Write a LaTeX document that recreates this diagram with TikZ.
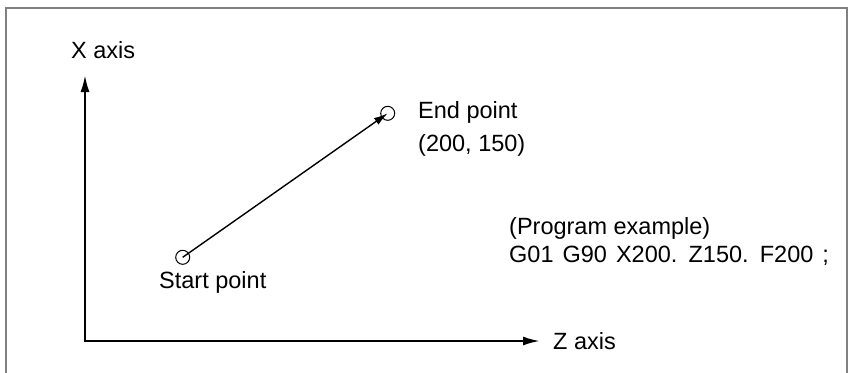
\documentclass[tikz,border=0pt]{standalone}
\usepackage{fontspec}
\setmainfont{Liberation Sans}
\usetikzlibrary{arrows.meta}
\begin{document}
\begin{tikzpicture}[x=1pt,y=-1pt,
  lbl/.style={anchor=base west,inner sep=0pt,font=\fontsize{23.5}{28}\selectfont},
  pt/.style={circle,draw,line width=1pt,minimum size=14pt,inner sep=0pt},
  axis/.style={line width=2.2pt,-{Latex[length=17pt,width=9pt]}},
  move/.style={line width=1.4pt,-{Latex[length=14pt,width=8pt]}}]
\useasboundingbox (0,0) rectangle (848,372);
\draw[line width=2pt,color=gray] (6,380) -- (6,7.5) -- (846.5,7.5) -- (846.5,380);
\coordinate (o) at (85,341);
\coordinate (xt) at (85,75);
\coordinate (zt) at (540,341);
\draw[axis] (o) -- (xt);
\draw[axis] ([xshift=-1.1pt]o) -- (zt);
\node[lbl] (xl) at (71,58) {X axis};
\node[lbl] (zl) at (553,349) {Z axis};
\node[pt] (s) at (182.7,257.3) {};
\node[pt] (e) at (387.7,113.3) {};
\draw[move] (s.center) -- (e.center);
\node[lbl] (el1) at (418,118) {End point};
\node[lbl] (el2) at (418,151) {(200, 150)};
\node[lbl] (sl) at (159,288) {Start point};
\node[lbl] (p1) at (509,234) {(Program example)};
\node[lbl] (p2) at (509,262) {\spaceskip=9pt G01 G90 X200. Z150. F200 ;};
\end{tikzpicture}
\end{document}
